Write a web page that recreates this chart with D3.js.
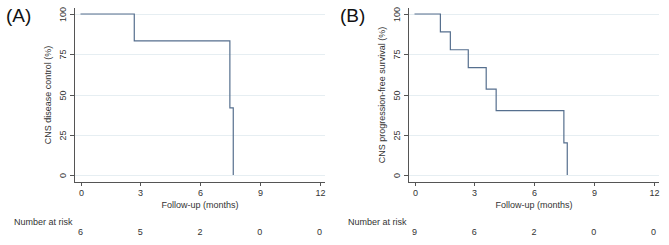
<!DOCTYPE html>
<html>
<head>
<meta charset="utf-8">
<script src="https://cdn.jsdelivr.net/npm/d3@7"></script>
<style>
  body { margin: 0; background: #fff; }
  svg { font-family: "Liberation Sans", Arial, sans-serif; }
</style>
</head>
<body>
<div id="chart"></div>
<script>
// step times (months) and survival (%) after each step
const timesA = [0, 2.7, 7.5, 7.67];
const survA = [100, 83.3, 41.7, 0];
const riskA = [6, 5, 2, 0, 0];

const timesB = [0, 1.3, 1.8, 2.7, 3.6, 4.1, 7.5, 7.67];
const survB = [100, 88.9, 77.8, 66.7, 53.3, 40, 20, 0];
const riskB = [9, 6, 2, 0, 0];

const xTicks = [0, 3, 6, 9, 12];
const yTicks = [0, 25, 50, 75, 100];

const panels = [
  { label: "(A)", ytitle: "CNS disease control (%)", times: timesA, surv: survA, risk: riskA, ox: 0 },
  { label: "(B)", ytitle: "CNS progression-free survival (%)", times: timesB, surv: survB, risk: riskB, ox: 334 }
];

const svg = d3.select("#chart").append("svg")
  .attr("width", 669).attr("height", 245);

const lineColor = "#566f8e";

panels.forEach(p => {
  const g = svg.append("g").attr("transform", "translate(" + p.ox + ",0)");
  const x = d3.scaleLinear().domain([0, 12]).range([80.5, 319.5]);
  const y = d3.scaleLinear().domain([0, 100]).range([175, 14]);
  const axisX = 74, axisY = 182, rightEdge = 325;

  // gridlines
  g.selectAll(".grid").data(yTicks).enter().append("line")
    .attr("x1", axisX).attr("x2", rightEdge)
    .attr("y1", d => Math.round(y(d)) + 0.5).attr("y2", d => Math.round(y(d)) + 0.5)
    .attr("stroke", "#e6eef2").attr("stroke-width", 1);

  // axis lines
  g.append("line").attr("x1", axisX + 0.5).attr("x2", axisX + 0.5)
    .attr("y1", 8).attr("y2", axisY + 0.5)
    .attr("stroke", "#555").attr("stroke-width", 1);
  g.append("line").attr("x1", axisX).attr("x2", rightEdge)
    .attr("y1", axisY + 0.5).attr("y2", axisY + 0.5)
    .attr("stroke", "#555").attr("stroke-width", 1);

  // y ticks and labels
  const yt = g.selectAll(".yt").data(yTicks).enter().append("g")
    .attr("transform", d => "translate(" + axisX + "," + (Math.round(y(d)) + 0.5) + ")");
  yt.append("line").attr("x1", -4).attr("x2", 0).attr("stroke", "#555");
  yt.append("text").attr("transform", "translate(-8,0) rotate(-90)")
    .attr("text-anchor", "middle").attr("font-size", 9).attr("fill", "#333")
    .text(d => d);

  // x ticks and labels
  const xt = g.selectAll(".xt").data(xTicks).enter().append("g")
    .attr("transform", d => "translate(" + (Math.round(x(d)) + 0.5) + "," + axisY + ")");
  xt.append("line").attr("y1", 0).attr("y2", 4).attr("stroke", "#555");
  xt.append("text").attr("y", 14).attr("text-anchor", "middle")
    .attr("font-size", 9).attr("fill", "#333").text(d => d);

  // axis titles
  g.append("text").attr("x", 200).attr("y", 208).attr("text-anchor", "middle")
    .attr("font-size", 9).attr("fill", "#333").text("Follow-up (months)");
  g.append("text").attr("transform", "translate(51,95) rotate(-90)")
    .attr("text-anchor", "middle").attr("font-size", 9).attr("fill", "#333")
    .text(p.ytitle);

  // KM step curve
  const pts = p.times.map((t, i) => [t, p.surv[i]]);
  const line = d3.line().x(d => x(d[0])).y(d => y(d[1])).curve(d3.curveStepAfter);
  g.append("path").datum(pts).attr("d", line)
    .attr("fill", "none").attr("stroke", lineColor).attr("stroke-width", 1.2);

  // number at risk
  g.append("text").attr("x", 14).attr("y", 225).attr("font-size", 9).attr("fill", "#333")
    .text("Number at risk");
  g.selectAll(".risk").data(p.risk).enter().append("text")
    .attr("x", (d, i) => x(xTicks[i])).attr("y", 235)
    .attr("text-anchor", "middle").attr("font-size", 9).attr("fill", "#333")
    .text(d => d);

  // panel label
  g.append("text").attr("x", 6).attr("y", 22).attr("font-size", 19).attr("fill", "#111")
    .text(p.label);
});
</script>
</body>
</html>
